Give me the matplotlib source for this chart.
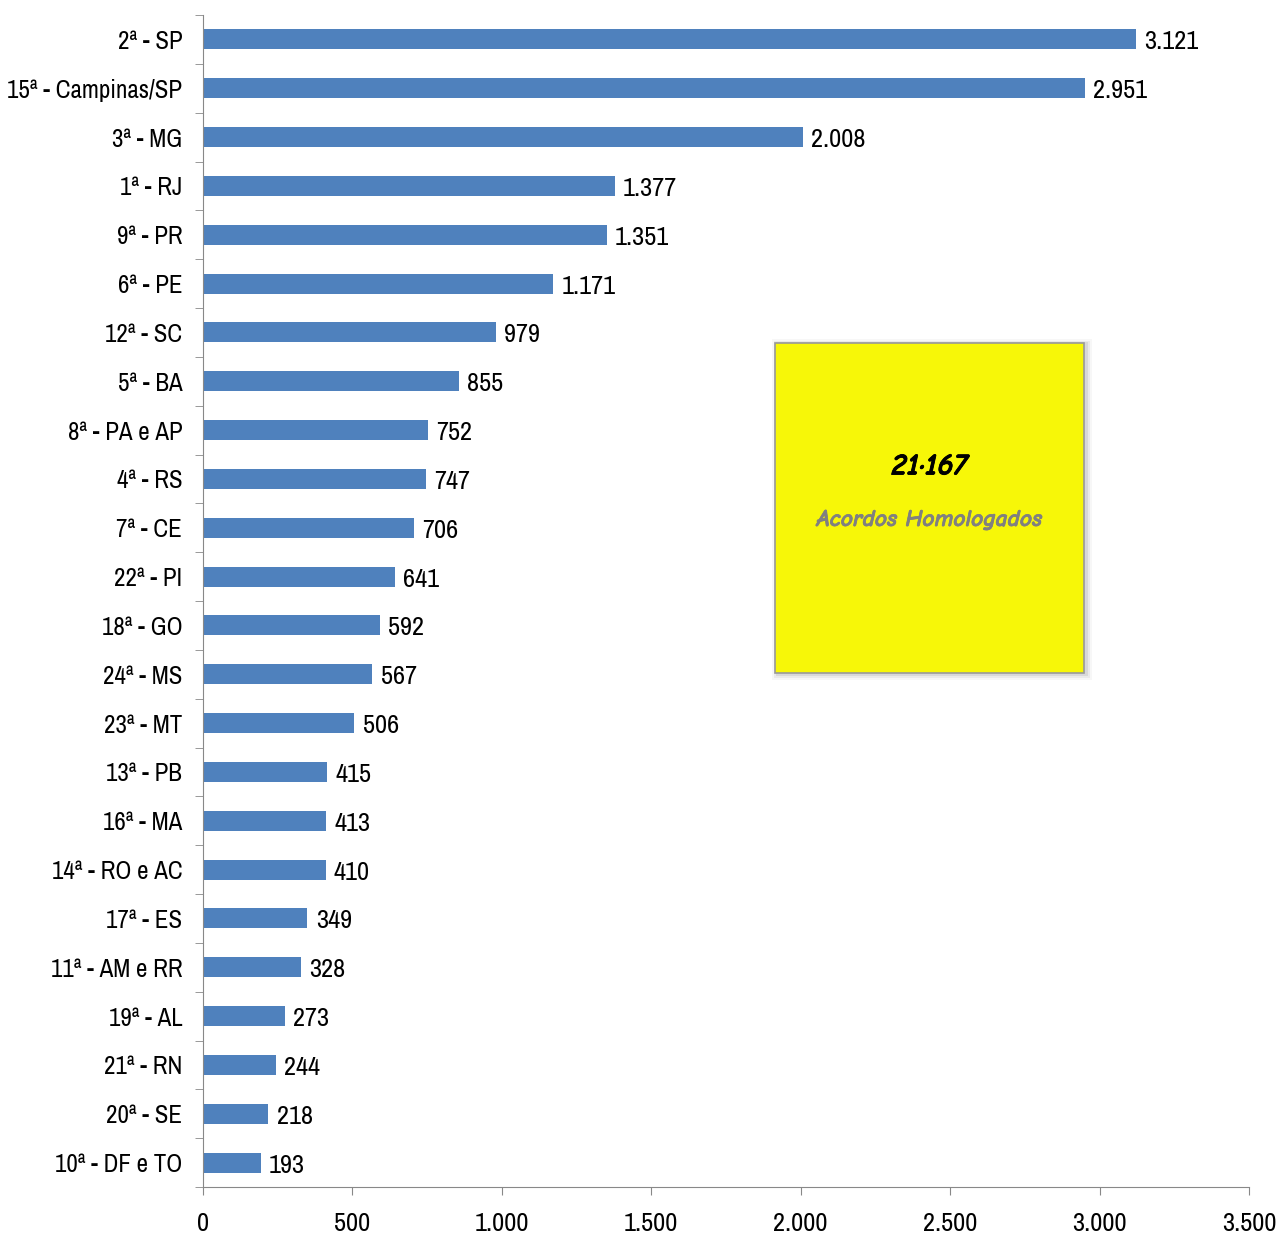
import matplotlib.pyplot as plt
import matplotlib.patheffects as pe
from matplotlib.patches import Rectangle

# TRT regions (top to bottom) and agreements ratified
regioes = ["2ª - SP", "15ª - Campinas/SP", "3ª - MG", "1ª - RJ", "9ª - PR", "6ª - PE",
           "12ª - SC", "5ª - BA", "8ª - PA e AP", "4ª - RS", "7ª - CE", "22ª - PI",
           "18ª - GO", "24ª - MS", "23ª - MT", "13ª - PB", "16ª - MA", "14ª - RO e AC",
           "17ª - ES", "11ª - AM e RR", "19ª - AL", "21ª - RN", "20ª - SE", "10ª - DF e TO"]
acordos = [3121, 2951, 2008, 1377, 1351, 1171, 979, 855, 752, 747, 706, 641,
           592, 567, 506, 415, 413, 410, 349, 328, 273, 244, 218, 193]
xticks = [0, 500, 1000, 1500, 2000, 2500, 3000, 3500]
total_txt = "21·167"
sub_txt = "Acordos Homologados"

plt.rcParams['font.family'] = ['Archivo Narrow', 'DejaVu Sans']

def br(n):
    return f"{n:,}".replace(",", ".")

fig = plt.figure(figsize=(12.79, 12.38), dpi=100)
ax = fig.add_axes([203/1279, 1 - 1187/1238, 1046/1279, 1172/1238])

ypos = list(range(len(regioes)))[::-1]
ax.barh(ypos, acordos, height=0.41, color='#4f81bd')
for y, v in zip(ypos, acordos):
    ax.text(v + 28, y - 0.05, br(v), va='center', ha='left', fontsize=19)

ax.set_xlim(0, 3500)
ax.set_ylim(-0.5, len(regioes) - 0.5)
ax.set_yticks(ypos)
ax.set_yticklabels(regioes, fontsize=18)
ax.tick_params(axis='y', length=0, pad=15)
ax.set_yticks([i + 0.5 for i in range(-1, len(regioes))], minor=True)
ax.tick_params(axis='y', which='minor', length=6, color='#888888')
ax.set_xticks(xticks)
ax.set_xticklabels([br(t) for t in xticks], fontsize=19)
ax.tick_params(axis='x', length=6, color='#888888', pad=12)

for s in ['top', 'right']:
    ax.spines[s].set_visible(False)
ax.spines['left'].set_color('#888888')
ax.spines['bottom'].set_color('#888888')

# yellow annotation box with a soft shadow
bx, by, bw, bh = 775/1279, 1 - 673/1238, 309/1279, 330/1238
for i, a in enumerate([0.07, 0.05, 0.03]):
    d = (i + 1) * 0.0015
    fig.patches.append(Rectangle((bx - d + 0.002, by - d - 0.001), bw + 2 * d, bh + 2 * d,
                                 transform=fig.transFigure, facecolor='black',
                                 alpha=a, edgecolor='none', zorder=2))
fig.patches.append(Rectangle((bx, by), bw, bh, transform=fig.transFigure,
                             facecolor='#f7f708', edgecolor='#999999', lw=1.2, zorder=3))
fig.text(bx + bw / 2, 1 - 467/1238, total_txt, ha='center', va='center', fontsize=22,
         fontweight='bold', style='italic', family=['Comic Neue', 'DejaVu Sans'], zorder=4,
         path_effects=[pe.withStroke(linewidth=0.6, foreground='black')])
fig.text(bx + bw / 2, 1 - 520/1238, sub_txt, ha='center', va='center', fontsize=17,
         fontweight='bold', style='italic', color='#808080',
         family=['Comic Neue', 'DejaVu Sans'], zorder=4,
         path_effects=[pe.withStroke(linewidth=0.5, foreground='#808080')])

fig.savefig('out.png', dpi=100)
